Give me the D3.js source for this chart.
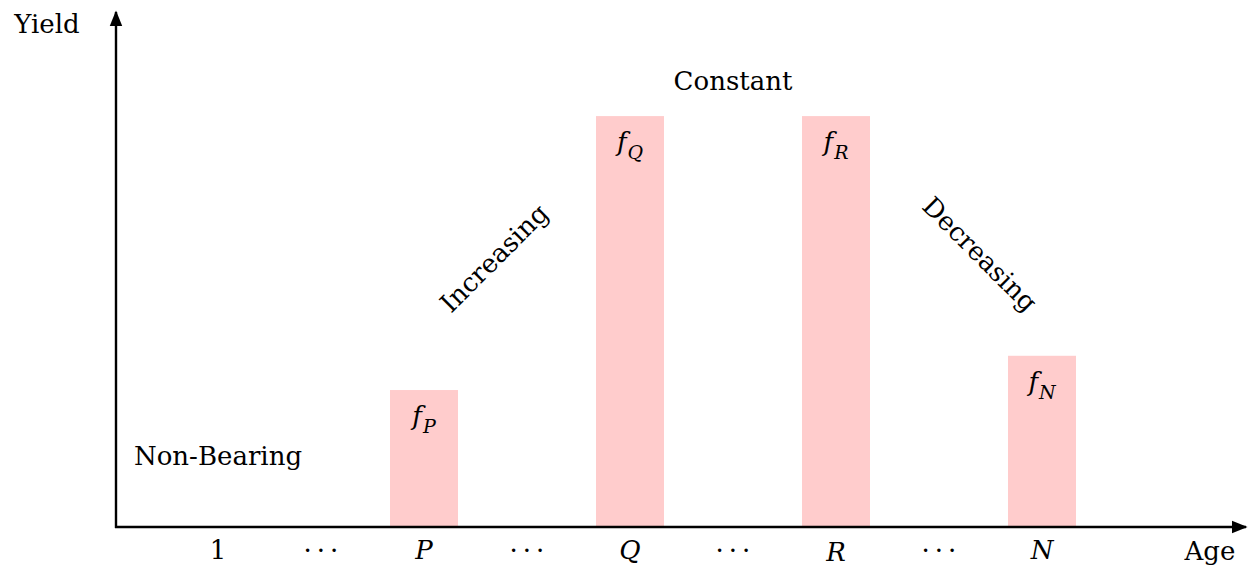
<!DOCTYPE html>
<html>
<head>
<meta charset="utf-8">
<script src="https://cdn.jsdelivr.net/npm/d3@7"></script>
<style>
  body { margin: 0; background: #fff; }
</style>
</head>
<body>
<div id="chart"></div>
<script>
// tick labels along the age axis (one per slot)
const tick_labels = ["1", "\u00B7\u00B7\u00B7", "P", "\u00B7\u00B7\u00B7", "Q", "\u00B7\u00B7\u00B7", "R", "\u00B7\u00B7\u00B7", "N"];
const italic_ticks = ["P", "Q", "R", "N"];

// bars: which slot they sit on, their yield, and the subscript of the label
const bar_slots = [2, 4, 6, 8];
const bar_values = [2, 6, 6, 2.5];
const bar_subs = ["P", "Q", "R", "N"];

const width = 1248, height = 567,
    x0 = 116, y0 = 527, x_end = 1246, y_end = 12,
    font_size = 26, bar_w = 68, bar_color = "#ffcccc",
    dot_gap = 5,
    serif = "'DejaVu Serif', serif";

const svg = d3.select("#chart").append("svg")
    .attr("width", width)
    .attr("height", height)
    .attr("font-family", serif)
    .style("font-family", serif);

const x = d3.scalePoint()
    .domain(d3.range(tick_labels.length))
    .range([218, 1042]);

const y = d3.scaleLinear()
    .domain([0, 7.52])
    .range([y0, y_end]);

// arrow heads
const defs = svg.append("defs");
defs.append("marker")
    .attr("id", "arrow")
    .attr("viewBox", "0 0 10 10")
    .attr("refX", 9).attr("refY", 5)
    .attr("markerWidth", 6.5).attr("markerHeight", 6.5)
    .attr("markerUnits", "strokeWidth")
    .attr("orient", "auto")
    .append("path")
    .attr("d", "M0,1 L10,5 L0,9 Z")
    .attr("fill", "#000");

// bars
svg.append("g").selectAll("rect")
    .data(bar_values)
    .enter()
    .append("rect")
    .attr("x", (d, i) => x(bar_slots[i]) - bar_w / 2)
    .attr("y", d => y(d))
    .attr("width", bar_w)
    .attr("height", d => y0 - y(d))
    .attr("fill", bar_color);

// f_X labels inside bars
const flabels = svg.append("g").selectAll("text")
    .data(bar_values)
    .enter()
    .append("text")
    .attr("x", (d, i) => x(bar_slots[i]))
    .attr("y", d => y(d) + 35)
    .attr("text-anchor", "middle")
    .attr("font-size", font_size)
    .attr("font-style", "italic");
flabels.append("tspan").text("f");
flabels.append("tspan")
    .attr("dy", 8)
    .attr("dx", 1)
    .attr("font-size", 19)
    .text((d, i) => bar_subs[i]);

// axes
svg.append("line")
    .attr("x1", x0 - 1).attr("y1", y0)
    .attr("x2", x_end).attr("y2", y0)
    .attr("stroke", "#000").attr("stroke-width", 2.4)
    .attr("marker-end", "url(#arrow)");
svg.append("line")
    .attr("x1", x0).attr("y1", y0 + 1)
    .attr("x2", x0).attr("y2", y_end)
    .attr("stroke", "#000").attr("stroke-width", 2.4)
    .attr("marker-end", "url(#arrow)");

// tick labels
svg.append("g").selectAll("text")
    .data(tick_labels)
    .enter()
    .append("text")
    .attr("x", (d, i) => x(i))
    .attr("dx", d => d.length > 1 ? dot_gap / 2 : 0)
    .attr("y", d => d === "R" ? 561 : 559)
    .attr("text-anchor", "middle")
    .attr("font-size", font_size)
    .attr("font-style", d => italic_ticks.includes(d) ? "italic" : "normal")
    .attr("letter-spacing", d => d.length > 1 ? dot_gap : 0)
    .text(d => d);

// axis titles and phase labels
svg.append("text").attr("x", 47).attr("y", 33)
    .attr("text-anchor", "middle").attr("font-size", font_size).text("Yield");
svg.append("text").attr("x", 1210).attr("y", 560)
    .attr("text-anchor", "middle").attr("font-size", font_size).text("Age");
svg.append("text").attr("x", 218).attr("y", 465)
    .attr("text-anchor", "middle").attr("font-size", font_size).text("Non-Bearing");
svg.append("text").attr("x", (x(4) + x(6)) / 2).attr("y", 90)
    .attr("text-anchor", "middle").attr("font-size", font_size).text("Constant");
svg.append("text")
    .attr("transform", "translate(494,258) rotate(-45)")
    .attr("text-anchor", "middle").attr("dy", "0.35em")
    .attr("font-size", font_size).text("Increasing");
svg.append("text")
    .attr("transform", "translate(980,254) rotate(45)")
    .attr("text-anchor", "middle").attr("dy", "0.35em")
    .attr("font-size", font_size).text("Decreasing");
</script>
</body>
</html>
